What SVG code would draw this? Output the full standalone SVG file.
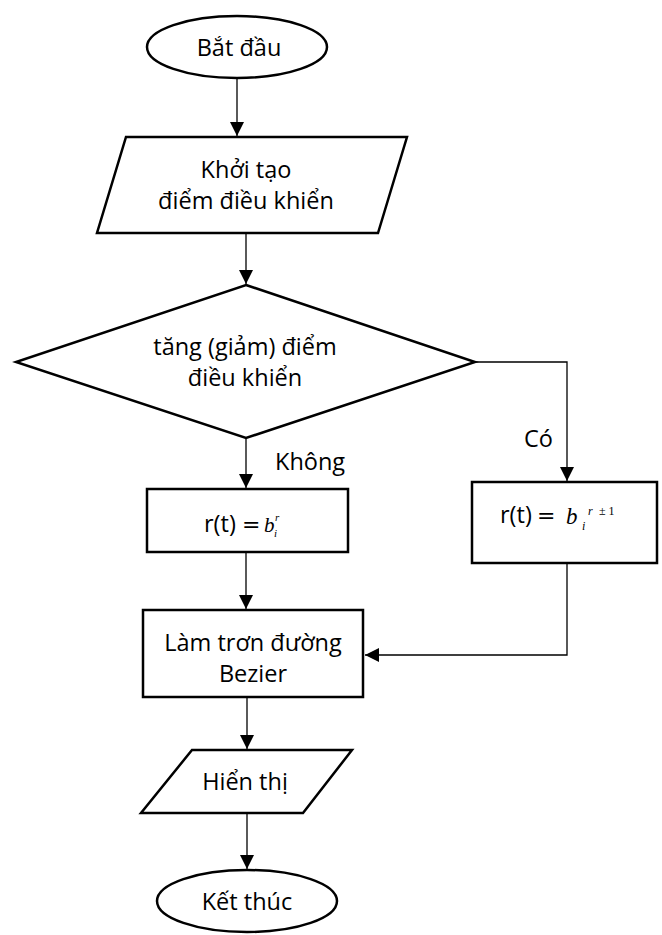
<svg xmlns="http://www.w3.org/2000/svg" width="662" height="935" viewBox="0 0 662 935">
<defs>
<style>
.s{fill:#fff;stroke:#000;stroke-width:2.5}
.t{font-family:"Open Sans","Noto Sans",sans-serif;font-size:23.5px;fill:#000;text-anchor:middle}
.l{font-family:"Open Sans","Noto Sans",sans-serif;font-size:23.5px;fill:#000}
.e{font-family:"DejaVu Sans",sans-serif;font-size:22px;fill:#000}
.m{font-family:"Liberation Serif",serif;font-style:italic;fill:#000}
.c{fill:none;stroke:#000;stroke-width:1.3}
</style>
<marker id="a" viewBox="0 0 14 14" refX="14" refY="7" markerWidth="14" markerHeight="14" markerUnits="userSpaceOnUse" orient="auto">
<path d="M0,0L14,7L0,14z" fill="#000"/>
</marker>
</defs>
<g id="connectors">
<path class="c" d="M237,78V136" marker-end="url(#a)"/>
<path class="c" d="M246,233V284" marker-end="url(#a)"/>
<path class="c" d="M246,438V488" marker-end="url(#a)"/>
<path class="c" d="M475,362H567V481" marker-end="url(#a)"/>
<path class="c" d="M246,552V609" marker-end="url(#a)"/>
<path class="c" d="M567,563V655H365" marker-end="url(#a)"/>
<path class="c" d="M247,697V749" marker-end="url(#a)"/>
<path class="c" d="M247,813V869" marker-end="url(#a)"/>
</g>
<g id="start">
<ellipse class="s" cx="237" cy="47" rx="90" ry="31"/>
<text class="t" x="239" y="56">Bắt đầu</text>
</g>
<g id="init">
<polygon class="s" points="126,137 407,137 378,233 97,233"/>
<text class="t" x="246" y="178">Khởi tạo</text>
<text class="t" x="246" y="209">điểm điều khiển</text>
</g>
<g id="decision">
<polygon class="s" points="246,285 475,362 246,438 16,362"/>
<text class="t" x="245" y="355">tăng (giảm) điểm</text>
<text class="t" x="245" y="386">điều khiển</text>
</g>
<g id="label-no">
<text class="l" x="275" y="470">Không</text>
</g>
<g id="label-yes">
<text class="l" x="524" y="447">Có</text>
</g>
<g id="box-no">
<rect class="s" x="147" y="489" width="201" height="63"/>
<text class="l" x="204" y="532">r(t)</text>
<text class="e" x="242" y="532">=</text>
<text class="m" x="264" y="532" font-size="21">b</text>
<text class="m" x="275" y="521" font-size="11">r</text>
<text class="m" x="274" y="537" font-size="11">i</text>
</g>
<g id="box-yes">
<rect class="s" x="472" y="482" width="185" height="81"/>
<text class="l" x="500" y="523">r(t)</text>
<text class="e" x="537" y="523">=</text>
<text class="m" x="566" y="524" font-size="23">b</text>
<text class="m" x="582" y="530" font-size="12">i</text>
<text class="m" x="588" y="515" font-size="12">r</text>
<text x="599" y="515" font-size="12" font-family="Liberation Serif,serif">± 1</text>
</g>
<g id="smooth">
<rect class="s" x="143" y="610" width="220" height="87"/>
<text class="t" x="253" y="651">Làm trơn đường</text>
<text class="t" x="253" y="682">Bezier</text>
</g>
<g id="display">
<polygon class="s" points="192,750 352,750 303,813 141,813"/>
<text class="t" x="245" y="790">Hiển thị</text>
</g>
<g id="end">
<ellipse class="s" cx="247" cy="901" rx="90" ry="31"/>
<text class="t" x="247" y="910">Kết thúc</text>
</g>
</svg>
